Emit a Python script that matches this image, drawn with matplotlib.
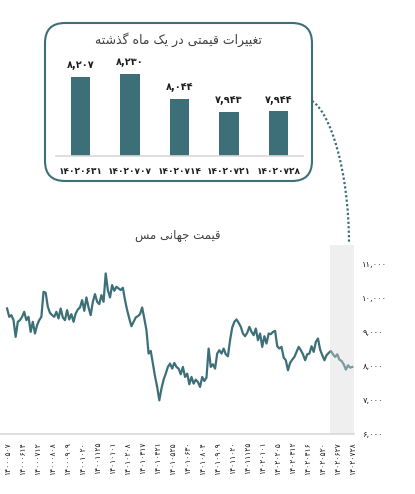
import matplotlib
matplotlib.use('Agg')
import matplotlib.pyplot as plt
from matplotlib.patches import FancyBboxPatch, PathPatch
from matplotlib.path import Path

plt.rcParams['font.family'] = ['DejaVu Sans']

teal = '#3d6f78'
text_color = '#1f1f1f'

# last month (weekly)
week_labels = ['14020631', '14020707', '14020714', '14020721', '14020728']
week_values = [8207, 8230, 8044, 7943, 7944]

# copper world price
date_labels = ['14000507', '14000614', '14000712', '14000808', '14000909', '14001020',
               '14001125', '14010101', '14010208', '14010317', '14010421', '14010525',
               '14010630', '14010804', '14010909', '14011020', '14011125', '14020101',
               '14020205', '14020312', '14020416', '14020520', '14020627', '14020728']
copper_price = [9668, 9423, 9472, 9325, 8835, 9276, 9325, 9423, 9570, 9325,
                9423, 8982, 9276, 8933, 9178, 9325, 9423, 10158, 10128, 9717,
                9540, 9472, 9423, 9570, 9374, 9668, 9403, 9325, 9619, 9345,
                9501, 9276, 9521, 9638, 9697, 9913, 9599, 9991, 9697, 9472,
                9864, 10089, 9864, 9795, 10060, 9864, 10697, 10207, 9991, 10354,
                10187, 10305, 10256, 10207, 10276, 9913, 9619, 9374, 9148, 9276,
                9403, 9442, 9501, 9697, 9374, 9031, 8345, 8423, 8051, 7678,
                7365, 6973, 7316, 7580, 7757, 7953, 8051, 7904, 8071, 7953,
                7904, 7737, 7953, 7659, 7757, 7443, 7659, 7463, 7580, 7512,
                7365, 7659, 7541, 7639, 8492, 7953, 8031, 7904, 8345, 8443,
                8345, 8492, 8325, 8266, 8737, 9109, 9276, 9345, 9246, 9129,
                8933, 8855, 8953, 9129, 8982, 8884, 9080, 8737, 8933, 8541,
                8855, 8639, 8933, 8913, 8982, 9011, 8560, 8492, 8541, 8227,
                8149, 7855, 8071, 8168, 8247, 8394, 8541, 8443, 8325, 8149,
                8325, 8345, 8560, 8394, 8688, 8786, 8462, 8296, 8149, 8296,
                8364, 8422, 8324, 8246, 8324, 8167, 8128, 8030, 7874, 8001,
                7932, 7952]
label_step = 7
y_ticks = [6000, 7000, 8000, 9000, 10000, 11000]

title_month = 'تغییرات قیمتی در یک ماه گذشته'
title_main = 'قیمت جهانی مس'

fa_digits = str.maketrans('0123456789', '۰۱۲۳۴۵۶۷۸۹')


def fa(s):
    return str(s).translate(fa_digits)


# presentation forms: isolated, final, initial, medial
forms = {
    'ا': ('\uFE8D', '\uFE8E', None, None),
    'ت': ('\uFE95', '\uFE96', '\uFE97', '\uFE98'),
    'ج': ('\uFE9D', '\uFE9E', '\uFE9F', '\uFEA0'),
    'د': ('\uFEA9', '\uFEAA', None, None),
    'ذ': ('\uFEAB', '\uFEAC', None, None),
    'ر': ('\uFEAD', '\uFEAE', None, None),
    'س': ('\uFEB1', '\uFEB2', '\uFEB3', '\uFEB4'),
    'ش': ('\uFEB5', '\uFEB6', '\uFEB7', '\uFEB8'),
    'غ': ('\uFECD', '\uFECE', '\uFECF', '\uFED0'),
    'ق': ('\uFED5', '\uFED6', '\uFED7', '\uFED8'),
    'م': ('\uFEE1', '\uFEE2', '\uFEE3', '\uFEE4'),
    'ن': ('\uFEE5', '\uFEE6', '\uFEE7', '\uFEE8'),
    'ه': ('\uFEE9', '\uFEEA', '\uFEEB', '\uFEEC'),
    'ی': ('\uFBFC', '\uFBFD', '\uFBFE', '\uFBFF'),
    'ک': ('\uFB8E', '\uFB8F', '\uFB90', '\uFB91'),
    'گ': ('\uFB92', '\uFB93', '\uFB94', '\uFB95'),
}


def shape(text):
    out = []
    for k, ch in enumerate(text):
        if ch not in forms:
            out.append(ch)
            continue
        prev = text[k - 1] if k > 0 else ''
        nxt = text[k + 1] if k + 1 < len(text) else ''
        iso, fin, ini, med = forms[ch]
        jp = prev in forms and forms[prev][2] is not None
        jn = nxt in forms and ini is not None
        if jp and jn:
            out.append(med)
        elif jp:
            out.append(fin)
        elif jn:
            out.append(ini)
        else:
            out.append(iso)
    return ''.join(reversed(out))


W, H = 415, 494
fig = plt.figure(figsize=(W / 100, H / 100), dpi=100)

# main line chart
ax = fig.add_axes([0, 1 - 433.5 / H, 354 / W, (433.5 - 245) / H])
x = list(range(len(copper_price)))
ax.plot(x, copper_price, color=teal, lw=1.6, zorder=2)
ax.axvspan(150.4, 161.8, color='#d9d9d9', alpha=0.4, lw=0, zorder=3)
ax.set_xlim(-3.3, 161.8)
ax.set_ylim(6000, 11530)
ax.yaxis.tick_right()
ax.set_yticks(y_ticks)
ax.set_yticklabels([fa(f'{v:,}') for v in y_ticks], fontsize=6, color=text_color)
ax.set_xticks(x[::label_step])
ax.set_xticklabels([fa(d) for d in date_labels], rotation=90, fontsize=5.5, color=text_color)
ax.tick_params(axis='both', length=0)
ax.tick_params(axis='y', pad=6)
ax.tick_params(axis='x', pad=6)
for s in ['top', 'left', 'right']:
    ax.spines[s].set_visible(False)
ax.spines['bottom'].set_color('#d9d9d9')
ax.spines['bottom'].set_linewidth(1.2)
fig.text(178 / W, 1 - 235 / H, shape(title_main), ha='center', va='center',
         fontsize=8.5, color='#404040')

# last month bars
bax = fig.add_axes([56 / W, 1 - 156 / H, 247 / W, 101 / H])
bx = list(range(len(week_values)))
bax.bar(bx, week_values, width=0.39, color=teal, zorder=2)
bax.set_xlim(-0.5, 4.5)
bax.set_ylim(7600, 8380)
for i, v in zip(bx, week_values):
    bax.annotate(fa(f'{v:,}'), (i, v), xytext=(0, 5), textcoords='offset points',
                 ha='center', va='bottom', fontsize=7, fontweight='bold', color=text_color)
bax.set_xticks(bx)
bax.set_xticklabels([fa(d) for d in week_labels], fontsize=6.5, fontweight='bold', color=text_color)
bax.set_yticks([])
bax.tick_params(axis='x', length=0, pad=8)
for s in ['top', 'left', 'right']:
    bax.spines[s].set_visible(False)
bax.spines['bottom'].set_color('#d9d9d9')
bax.spines['bottom'].set_linewidth(1.2)
bax.patch.set_visible(False)
fig.text(178 / W, 1 - 40 / H, shape(title_month), ha='center', va='center',
         fontsize=9, color='#404040')

# frame and connector, drawn in pixel units
ov = fig.add_axes([0, 0, 1, 1])
ov.set_xlim(0, W)
ov.set_ylim(H, 0)
ov.axis('off')
ov.add_patch(FancyBboxPatch((45, 23), 267, 158, boxstyle='round,pad=0,rounding_size=20',
                            fc='none', ec=teal, lw=1.5))
conn = Path([(312, 101), (330, 112), (349, 170), (349, 244)],
            [Path.MOVETO, Path.CURVE4, Path.CURVE4, Path.CURVE4])
ov.add_patch(PathPatch(conn, fill=False, ec=teal, lw=1.6, ls=(0, (1, 1))))

fig.savefig('out.png', dpi=100)
